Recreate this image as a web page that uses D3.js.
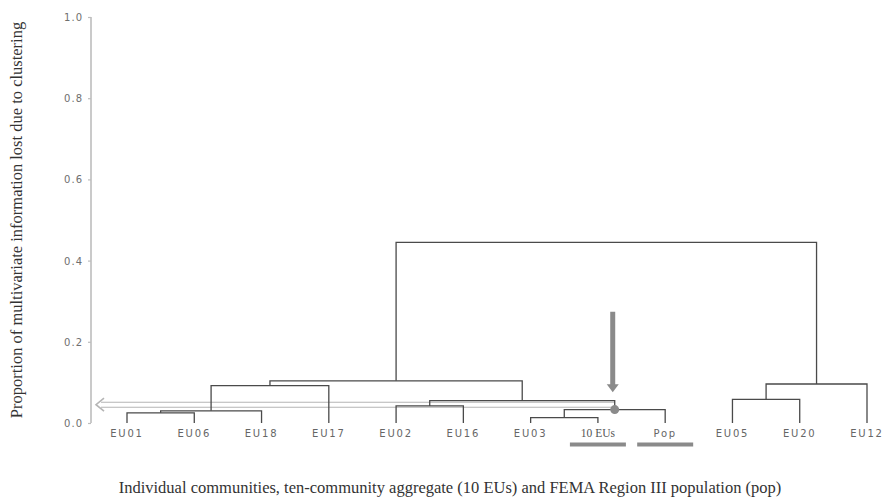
<!DOCTYPE html>
<html>
<head>
<meta charset="utf-8">
<script src="https://cdn.jsdelivr.net/npm/d3@7"></script>
<style>
  html, body { margin: 0; padding: 0; background: #fff; }
  svg { display: block; }
</style>
</head>
<body>
<svg id="chart" width="887" height="503"></svg>
<script>
// Leaf order along the bottom of the dendrogram
const leaves = ["EU01", "EU06", "EU18", "EU17", "EU02", "EU16", "EU03", "10 EUs", "Pop", "EU05", "EU20", "EU12"];

// Agglomeration steps: [left member, right member, height]
// Members are leaf names or "m<k>" referring to the k-th merge (1-based)
const mergeLeft   = ["EU01", "m1",   "EU03", "m3",  "EU02", "m5", "EU05", "m2",   "m7",   "m8",  "m10"];
const mergeRight  = ["EU06", "EU18", "10 EUs", "Pop", "EU16", "m4", "EU20", "EU17", "EU12", "m6",  "m9"];
const mergeHeight = [0.025, 0.030, 0.013, 0.033, 0.042, 0.055, 0.058, 0.092, 0.096, 0.104, 0.445];

const yTicks = [0.0, 0.2, 0.4, 0.6, 0.8, 1.0];

// Annotations: horizontal cut arrow level and vertical pointer extent
const cutLevel = 0.045;
const pointerTop = 0.274;
const pointerTip = 0.076;
const highlighted = ["10 EUs", "Pop"];
const markedMerge = "m4";

const svg = d3.select("#chart");

const x = d3.scalePoint().domain(leaves).range([127, 867]);
const y = d3.scaleLinear().domain([0, 1]).range([423, 17]);

// Resolve positions of every node
const pos = {};
leaves.forEach(l => { pos[l] = { x: x(l), h: 0 }; });
mergeHeight.forEach((h, i) => {
  const a = pos[mergeLeft[i]], b = pos[mergeRight[i]];
  pos["m" + (i + 1)] = { x: (a.x + b.x) / 2, h: h, ax: a.x, ah: a.h, bx: b.x, bh: b.h };
});

// Y axis
const axis = d3.axisLeft(y).tickValues(yTicks).tickFormat(d3.format(".1f")).tickSize(3).tickPadding(5);
const gAxis = svg.append("g").attr("transform", "translate(91,0)").call(axis);
gAxis.select(".domain").attr("stroke", "#bdbdbd").attr("stroke-width", 1.6).attr("d", `M0,${y(1)}V${y(0)}`);
gAxis.selectAll(".tick line").attr("stroke", "#bdbdbd").attr("stroke-width", 1.2);
gAxis.selectAll(".tick text")
  .attr("fill", "#6f6f6f")
  .attr("font-family", "DejaVu Sans, sans-serif")
  .attr("font-size", 10)
  .attr("letter-spacing", 1)
  .attr("dy", "0.35em");

// Cut-level hollow arrow
const cutY = y(cutLevel);
const cutEnd = pos[markedMerge].x;
const gCut = svg.append("g").attr("fill", "none").attr("stroke", "#b5b5b5").attr("stroke-width", 1.2);
gCut.append("path").attr("d", `M101,${cutY - 2.5}H${cutEnd}M101,${cutY + 2.5}H${cutEnd}`);
gCut.append("path").attr("d", `M104,${cutY - 6.5}L96,${cutY}L104,${cutY + 6.5}`).attr("stroke-width", 1.6);

// Dendrogram links
const gTree = svg.append("g").attr("fill", "none").attr("stroke", "#4a4a4a").attr("stroke-width", 1.3);
mergeHeight.forEach((h, i) => {
  const n = pos["m" + (i + 1)];
  gTree.append("path").attr("d",
    `M${n.ax},${y(n.ah)}V${y(n.h)}H${n.bx}V${y(n.bh)}`);
});

// Marked node
svg.append("circle")
  .attr("cx", pos[markedMerge].x)
  .attr("cy", y(pos[markedMerge].h))
  .attr("r", 4.5)
  .attr("fill", "#8a8a8a");

// Vertical pointer arrow
const px = pos[markedMerge].x - 2;
svg.append("path")
  .attr("d", `M${px},${y(pointerTop)}V${y(pointerTip) - 6}`)
  .attr("stroke", "#8a8a8a").attr("stroke-width", 5).attr("fill", "none");
svg.append("path")
  .attr("d", `M${px - 6},${y(pointerTip) - 8}L${px + 6},${y(pointerTip) - 8}L${px},${y(pointerTip)}Z`)
  .attr("fill", "#8a8a8a");

// Leaf labels
const gLabels = svg.append("g");
leaves.forEach(l => {
  const t = gLabels.append("text")
    .attr("x", x(l))
    .attr("y", 436.5)
    .attr("text-anchor", "middle")
    .text(l);
  if (l === "10 EUs") {
    t.attr("font-family", "Liberation Serif, serif").attr("font-size", 11.5).attr("fill", "#555");
  } else {
    t.attr("font-family", "DejaVu Sans, sans-serif").attr("font-size", 10)
     .attr("letter-spacing", 1.8).attr("fill", "#666");
  }
});

// Underlines below highlighted labels
highlighted.forEach(l => {
  svg.append("line")
    .attr("x1", x(l) - 28).attr("x2", x(l) + 28)
    .attr("y1", 444.5).attr("y2", 444.5)
    .attr("stroke", "#8a8a8a").attr("stroke-width", 4);
});

// Axis titles
svg.append("text")
  .attr("transform", "translate(22,220) rotate(-90)")
  .attr("text-anchor", "middle")
  .attr("font-family", "Liberation Serif, serif")
  .attr("font-size", 16.5)
  .attr("fill", "#333")
  .text("Proportion of multivariate information lost due to clustering");

svg.append("text")
  .attr("x", 450)
  .attr("y", 493)
  .attr("text-anchor", "middle")
  .attr("font-family", "Liberation Serif, serif")
  .attr("font-size", 16.5)
  .attr("fill", "#333")
  .text("Individual communities, ten-community aggregate (10 EUs) and FEMA Region III population (pop)");
</script>
</body>
</html>
